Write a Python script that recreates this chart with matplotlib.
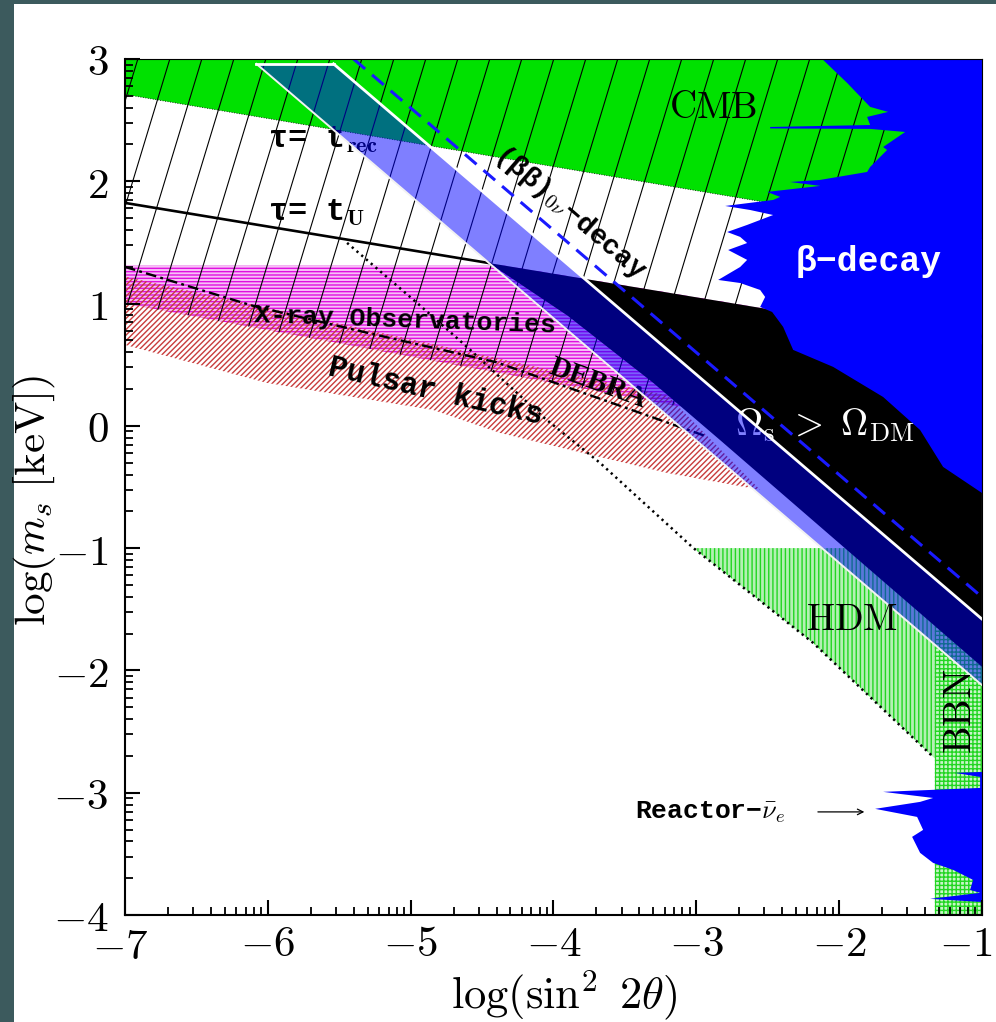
import numpy as np
import matplotlib.pyplot as plt
from matplotlib.patches import Polygon, Rectangle
from matplotlib.collections import LineCollection
from matplotlib.transforms import ScaledTranslation

plt.rcParams['mathtext.fontset'] = 'cm'
plt.rcParams['hatch.linewidth'] = 1.0

# ---- region boundaries in (log sin^2 2theta, log m_s/keV) ----
cmb_x = [-7, -1, -1, -7]
cmb_y = [3, 3, 1.53, 2.71]

xray_top = 1.31
xray_low_x = [-7, -1]
xray_low_y = [1.0, -0.30]

pulsar_top_x = [-7.0, -3.2]
pulsar_top_y = [1.22, 0.246]
pulsar_low_x = [-7.0, -6.006, -4.843, -4.374, -3.793, -3.204, -2.623, -2.553]
pulsar_low_y = [0.662, 0.351, 0.130, -0.058, -0.222, -0.385, -0.508, -0.524]

tau_u_x = [-7, -1]
tau_u_y = [1.823, 0.665]

# lines of slope -1: y = c - x
l1_c = -3.12     # lower edge of the band
l3_c = -2.58     # white line
bb_c = -2.40     # (beta beta)_0nu
band_top = 2.96
l2_x = [-4.45, -3.9, -3.3, -2.83, -1.0]
l2_y = [1.33, 0.90, 0.35, -0.12, -1.97]

beta_x = [-2.119, -1.944, -1.783, -1.657, -1.804, -1.783, -2.483, -2.483, -1.783,
          -1.538, -1.692, -1.664, -1.783, -1.804, -2.133, -2.343, -2.133, -2.504,
          -2.413, -2.462, -2.798, -2.623, -2.462, -2.644, -2.784, -2.693, -2.644,
          -2.777, -2.644, -2.693, -2.847, -2.693, -2.553, -2.518, -2.553, -2.469,
          -2.392, -2.322, -2.042, -1.692, -1.433, -1.272, -1.0, -1.0]
beta_y = [3.0, 2.804, 2.608, 2.567, 2.526, 2.460, 2.444, 2.432, 2.428,
          2.403, 2.280, 2.256, 2.117, 2.076, 2.011, 1.994, 1.962, 1.913,
          1.872, 1.847, 1.798, 1.765, 1.724, 1.643, 1.585, 1.545, 1.495,
          1.438, 1.357, 1.299, 1.193, 1.168, 1.111, 1.054, 0.972, 0.931,
          0.809, 0.621, 0.482, 0.236, -0.034, -0.336, -0.549, 3.0]

reactor_x = [-1.0, -1.188, -1.013, -1.013, -1.692, -1.342, -1.433, -1.748, -1.454,
             -1.412, -1.489, -1.433, -1.342, -1.202, -1.062, -1.083, -1.013,
             -1.363, -1.013, -1.0]
reactor_y = [-2.830, -2.838, -2.871, -2.961, -2.993, -3.043, -3.075, -3.132, -3.198,
             -3.304, -3.361, -3.492, -3.574, -3.631, -3.713, -3.795, -3.819,
             -3.868, -3.893, -3.893]

hdm_top = -1.0
bbn_xmin = -1.33
dotted_x = [-5.445, -4.955, -4.605, -4.073, -3.674, -3.022, -2.182, -1.342]
dotted_y = [1.496, 1.005, 0.645, 0.073, -0.303, -0.998, -1.775, -2.707]

xray_line_x = [-7.0, -6.1, -5.3, -4.4, -3.67, -2.92]
xray_line_y = [1.30, 0.98, 0.76, 0.52, 0.22, -0.09]

arrow_x = [-2.168, -1.804]
arrow_y = -3.157


def tau(x):
    return np.interp(x, tau_u_x, tau_u_y)


fig = plt.figure(figsize=(9.96, 10.22), dpi=100, facecolor='#3c5a5d')
fig.add_artist(Rectangle((14 / 996, 0), 1, 1 - 4 / 1022, transform=fig.transFigure,
                         facecolor='white', edgecolor='none', zorder=0))
ax = fig.add_axes([0.1255, 0.1047, 0.8604, 0.8376])
ax.set_xlim(-7, -1)
ax.set_ylim(-4, 3)

# CMB
ax.add_patch(Polygon(np.column_stack([cmb_x, cmb_y]), facecolor='#00e100',
                     edgecolor='none', zorder=1.0))

# HDM and BBN
hdm = [(dotted_x[5], hdm_top), (l3_c - hdm_top, hdm_top), (bbn_xmin, l3_c - bbn_xmin),
       (bbn_xmin, -2.72)] + list(zip(dotted_x[:4:-1], dotted_y[:4:-1]))
ax.add_patch(Polygon(hdm, facecolor='#b4f0b4', edgecolor='#22d622', hatch='||||',
                     linewidth=0, zorder=1.1))
bbn = [(bbn_xmin, -4), (-1, -4), (-1, l3_c + 1), (bbn_xmin, l3_c - bbn_xmin)]
ax.add_patch(Polygon(bbn, facecolor='#c8f5c8', edgecolor='#22d622', hatch='++++',
                     linewidth=0, zorder=1.1))

# X-ray observatories
x_int = np.interp(xray_top, tau_u_y[::-1], tau_u_x[::-1])
xray = [(-7, xray_top), (x_int, xray_top), (-1, tau(-1)),
        (xray_low_x[1], xray_low_y[1]), (xray_low_x[0], xray_low_y[0])]
ax.add_patch(Polygon(xray, facecolor='#f7c0f7', edgecolor='#e010e0', hatch='-----',
                     linewidth=0, zorder=1.2))

# Pulsar kicks
pulsar = list(zip(pulsar_top_x, pulsar_top_y)) + list(zip(pulsar_low_x[::-1], pulsar_low_y[::-1]))
ax.add_patch(Polygon(pulsar, facecolor='none', edgecolor='#c83c3c', hatch='//////',
                     linewidth=0, zorder=1.3))

# steep hatching
hatch_poly = Polygon([(-7, 3), (-1, 3), (xray_low_x[1], xray_low_y[1]),
                      (xray_low_x[0], xray_low_y[0])], transform=ax.transData)
segs = []
for k in range(-10, 45):
    xt = -6.91 + 0.224 * k
    segs.append([(xt, 3.0), (xt - 5.0 / 3.85, -2.0)])
lc = LineCollection(segs, colors='black', linewidths=0.8, zorder=1.4)
ax.add_collection(lc)
lc.set_clip_path(hatch_poly)

ax.plot(cmb_x[2:], cmb_y[2:], color='black', lw=0.6, dashes=(1, 2), zorder=1.45)

# Omega_s > Omega_DM
omega = [(l2_x[0], tau(l2_x[0])), (-1, tau(-1)), (-1, l2_y[-1])] + \
        list(zip(l2_x[-2::-1], l2_y[-2::-1]))
ax.add_patch(Polygon(omega, facecolor='black', edgecolor='none', zorder=1.6))

# beta decay and reactor
ax.add_patch(Polygon(np.column_stack([beta_x, beta_y]), facecolor='#0000ff',
                     edgecolor='none', zorder=1.7))
ax.add_patch(Polygon(np.column_stack([reactor_x, reactor_y]), facecolor='#0000ff',
                     edgecolor='none', zorder=1.7))

# lines
ax.plot([tau_u_x[0], l2_x[0]], [tau_u_y[0], tau(l2_x[0])], color='black', lw=1.9, zorder=1.8)
ax.plot(dotted_x, dotted_y, color='black', lw=1.8, dashes=(0.9, 1.6), zorder=1.8)
ax.plot(xray_line_x, xray_line_y, color='black', lw=1.7, dashes=(4.5, 1.8, 1.2, 1.8), zorder=1.8)

# labels under the band
mono = ['Liberation Mono', 'DejaVu Sans Mono']
ax.text(-6.0, 2.338, r'τ= t$_{\mathbf{rec}}$', family=mono, weight='bold', fontsize=23,
        ha='left', va='center', zorder=1.9)
ax.text(-6.0, 1.741, r'τ= t$_{\mathbf{U}}$', family=mono, weight='bold', fontsize=23,
        ha='left', va='center', zorder=1.9)
ax.text(-5.039, 0.866, 'X-ray Observatories', family=mono, weight='bold', fontsize=19,
        ha='center', va='center', rotation=-2, zorder=1.9)
ax.text(-4.829, 0.277, 'Pulsar kicks', family=mono, weight='bold',
        fontsize=22, ha='center', va='center', rotation=-13, rotation_mode='anchor', zorder=1.9)
ax.text(-3.688, 0.351, 'DEBRA', family='Liberation Serif', weight='bold', fontsize=21,
        ha='center', va='center', rotation=-20, rotation_mode='anchor', zorder=1.9)
ax.text(-2.098, 0.007, r'$\Omega_{\rm s}\ >\ \Omega_{\rm DM}$', color='white', fontsize=27,
        ha='center', va='center', zorder=1.9)

# sterile band
band = [(l1_c - band_top, band_top), (l3_c - band_top, band_top), (-1, l3_c + 1), (-1, l1_c + 1)]
ax.add_patch(Polygon(band, facecolor=(0, 0, 1, 0.5), edgecolor='none', zorder=2.0))
ax.plot([l1_c - band_top, -1], [band_top, l1_c + 1], color='#f2f2f2', lw=1.4, zorder=2.1)
ax.plot([l3_c - band_top, -1], [band_top, l3_c + 1], color='white', lw=2.0, zorder=2.1)
ax.plot([l1_c - band_top, l3_c - band_top], [band_top, band_top], color='white', lw=2.0, zorder=2.1)
ax.plot([bb_c - 3, -1], [3, bb_c + 1], color='#1a1aff', lw=2.2, dashes=(5, 3), zorder=2.1)

# other labels
ax.text(-3.884, 1.748, r'(ββ)$_{0\nu}$−decay', family=mono, weight='bold', fontsize=20,
        ha='center', va='center', rotation=-40.6, rotation_mode='anchor', zorder=3)
ax.text(-2.882, 2.599, r'$\rm CMB$', fontsize=27, ha='center', va='center', zorder=3)
ax.text(-1.790, 1.340, 'β−decay', family=mono, weight='bold', color='white', fontsize=25,
        ha='center', va='center', zorder=3)
ax.text(-1.909, -1.587, r'$\rm HDM$', fontsize=27, ha='center', va='center', zorder=3)
ax.text(-1.153, -2.339, r'$\rm BBN$', fontsize=28, ha='center', va='center', rotation=90, zorder=3)
ax.text(-2.903, -3.157, r'Reactor−$\bar{\nu}_e$', family=mono, weight='bold', fontsize=19,
        ha='center', va='center', zorder=3)
ax.annotate('', xy=(arrow_x[1], arrow_y), xytext=(arrow_x[0], arrow_y),
            arrowprops=dict(arrowstyle='->', lw=0.9, color='black'), zorder=3)

# axes
ax.set_xticks(range(-7, 0))
ax.set_xticklabels([rf'${v}$' for v in range(-7, 0)])
ax.set_yticks(range(-4, 4))
ax.set_yticklabels([rf'${v}$' for v in range(-4, 4)])
ax.set_xticks([n + np.log10(k) for n in range(-7, -1) for k in range(2, 10)], minor=True)
ax.set_yticks([n + np.log10(k) for n in range(-4, 3) for k in range(2, 10)], minor=True)
ax.tick_params(which='major', direction='in', length=11, width=1.5, labelsize=31)
ax.tick_params(which='minor', direction='in', length=5.5, width=1.3)
ax.tick_params(axis='y', which='major', pad=12)
ax.tick_params(axis='x', which='major', pad=6)
xt = ax.xaxis.get_major_ticks()
xt[0].label1.set_transform(xt[0].label1.get_transform() +
                           ScaledTranslation(-0.05, -0.03, fig.dpi_scale_trans))
xt[-1].label1.set_transform(xt[-1].label1.get_transform() +
                            ScaledTranslation(-0.16, 0, fig.dpi_scale_trans))
for s in ['left', 'bottom']:
    ax.spines[s].set_linewidth(1.5)
for s in ['top', 'right']:
    ax.spines[s].set_linewidth(0.8)
for s in ax.spines.values():
    s.set_zorder(10)
ax.xaxis.set_zorder(10)
ax.yaxis.set_zorder(10)

ax.set_xlabel(r'$\log(\sin^2\ 2\theta)$', fontsize=32)
ax.set_ylabel(r'$\log(m_s\ [{\rm keV}])$', fontsize=31)
ax.xaxis.set_label_coords(0.513, -0.093)
ax.xaxis.label.set_va('center')
ax.yaxis.set_label_coords(-0.106, 0.485)
ax.yaxis.label.set_va('center')

fig.savefig('out.png', dpi=100, facecolor=fig.get_facecolor())
